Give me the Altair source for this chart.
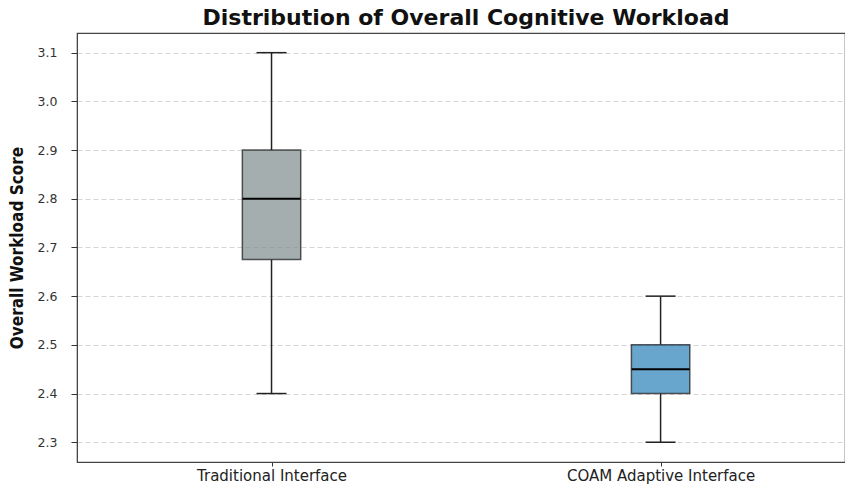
import altair as alt
import pandas as pd

categories = ["Traditional Interface", "COAM Adaptive Interface"]
positions = [1, 2]
whisker_low = [2.4, 2.3]
q1 = [2.675, 2.4]
median = [2.8, 2.45]
q3 = [2.9, 2.5]
whisker_high = [3.1, 2.6]
fill_colors = ["#7f8c8d", "#2980b9"]
y_ticks = [2.3, 2.4, 2.5, 2.6, 2.7, 2.8, 2.9, 3.0, 3.1]

df = pd.DataFrame({
    "category": categories,
    "pos": positions,
    "low": whisker_low,
    "q1": q1,
    "median": median,
    "q3": q3,
    "high": whisker_high,
})

label_expr = " : ".join(
    f"datum.value == {p} ? '{c}'" for p, c in zip(positions, categories)
) + " : ''"

x_scale = alt.Scale(domain=[0.5, 2.474], nice=False, zero=False)
y_scale = alt.Scale(domain=[2.2594, 3.1404], nice=False, zero=False)

x_axis = alt.Axis(
    values=positions, labelExpr=label_expr, title=None, grid=False,
    tickSize=4, tickColor="#333", domainColor="#444", labelFontSize=15,
    labelFont="DejaVu Sans", labelColor="#222", labelPadding=2,
    labelLimit=500, labelOverlap=False, labelBound=False,
)
y_axis = alt.Axis(
    values=y_ticks, format=".1f", title="Overall Workload Score",
    titleFont="DejaVu Sans Condensed, Liberation Sans, sans-serif", titleFontSize=17,
    titleFontWeight="bold", titleColor="#111", titlePadding=11,
    labelFont="DejaVu Sans", labelFontSize=12.5, labelColor="#333",
    labelPadding=14, tickSize=6, tickColor="#333", domainColor="#444",
    grid=True, gridColor="#d6d6d6", gridDash=[5, 3], gridWidth=1,
)

base = alt.Chart(df)

lower = base.mark_rule(color="#222", strokeWidth=1.5).encode(
    x=alt.X("pos:Q", scale=x_scale, axis=x_axis),
    y=alt.Y("low:Q", scale=y_scale, axis=y_axis),
    y2="q1:Q",
)
upper = base.mark_rule(color="#222", strokeWidth=1.5).encode(
    x=alt.X("pos:Q", scale=x_scale),
    y=alt.Y("q3:Q", scale=y_scale),
    y2="high:Q",
)
box = base.transform_calculate(
    x_lo="datum.pos - 0.075", x_hi="datum.pos + 0.075"
).mark_rect(fillOpacity=0.7, stroke="#222", strokeOpacity=0.75, strokeWidth=1.5).encode(
    x=alt.X("x_lo:Q", scale=x_scale),
    x2="x_hi:Q",
    y=alt.Y("q1:Q", scale=y_scale),
    y2="q3:Q",
    fill=alt.Fill("category:N", scale=alt.Scale(domain=categories, range=fill_colors), legend=None),
)
med = base.mark_tick(orient="horizontal", size=58, thickness=2, color="#000", opacity=1).encode(
    x=alt.X("pos:Q", scale=x_scale),
    y=alt.Y("median:Q", scale=y_scale),
)
cap_low = base.mark_tick(orient="horizontal", size=30, thickness=1.5, color="#222", opacity=1).encode(
    x=alt.X("pos:Q", scale=x_scale),
    y=alt.Y("low:Q", scale=y_scale),
)
cap_high = base.mark_tick(orient="horizontal", size=30, thickness=1.5, color="#222", opacity=1).encode(
    x=alt.X("pos:Q", scale=x_scale),
    y=alt.Y("high:Q", scale=y_scale),
)

chart = alt.layer(lower, upper, box, med, cap_low, cap_high).properties(
    width=768,
    height=429,
    title=alt.TitleParams(
        text="Distribution of Overall Cognitive Workload",
        font="DejaVu Sans", fontSize=22, fontWeight="bold", color="#111",
        anchor="middle", frame="group", dx=5, offset=3,
    ),
    autosize=alt.AutoSizeParams(type="none"),
    padding={"left": 77, "top": 33, "right": 0, "bottom": 24},
    background="white",
).configure_view(stroke="#444", strokeWidth=1.2)

chart.save("out.html", embed_options={"renderer": "svg", "actions": False})
